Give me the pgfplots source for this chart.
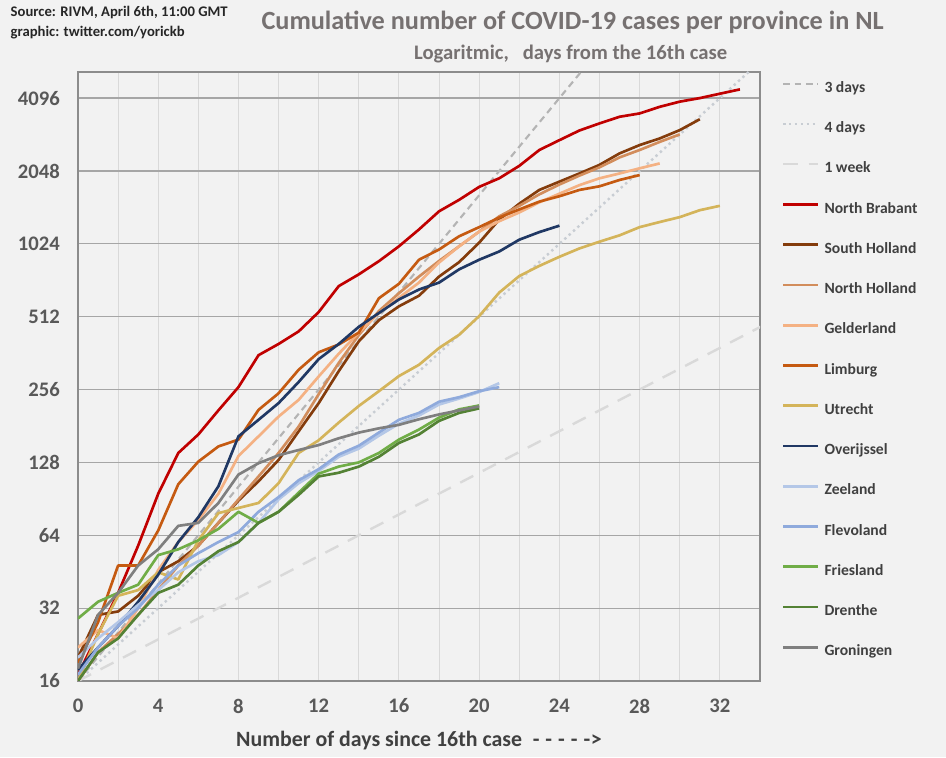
\documentclass[border=0pt]{standalone}
\usepackage{pgfplots}
\pgfplotsset{compat=1.18}
\usepackage{fontspec}
\setmainfont{Carlito}
\definecolor{bg}{HTML}{F2F2F2}
\definecolor{gridY}{HTML}{A6A6A6}
\definecolor{gridX}{HTML}{D9D9D9}
\definecolor{axisC}{HTML}{8C8C8C}
\definecolor{tickC}{HTML}{595959}
\definecolor{titleC}{HTML}{767171}
\definecolor{labC}{HTML}{404040}
\definecolor{ref3}{HTML}{B4B4B4}
\definecolor{ref4}{HTML}{C8CDD3}
\definecolor{ref7}{HTML}{D9D9D9}
\definecolor{cNB}{HTML}{C00000}
\definecolor{cSH}{HTML}{843C0C}
\definecolor{cNH}{HTML}{D28D5C}
\definecolor{cGE}{HTML}{F4B183}
\definecolor{cLI}{HTML}{C55A11}
\definecolor{cUT}{HTML}{D4B45A}
\definecolor{cOV}{HTML}{203864}
\definecolor{cZE}{HTML}{B4C7E7}
\definecolor{cFL}{HTML}{8FAADC}
\definecolor{cFR}{HTML}{70AD47}
\definecolor{cDR}{HTML}{548235}
\definecolor{cGR}{HTML}{7F7F7F}
\begin{document}
\begin{tikzpicture}[x=1pt,y=1pt]
\fill[bg] (-58.5,-57) rectangle (651,510.75);
\begin{axis}[
  scale only axis, width=511.5pt, height=456.75pt,
  xmin=0, xmax=34, ymode=log, log basis y=2, ymin=16, ymax=5250,
  axis background/.style={fill=bg},
  xtick={0,4,...,32}, xticklabels={0,4,8,12,16,20,24,28,32},
  minor xtick={0,2,...,34},
  ytick={16,32,64,128,256,512,1024,2048,4096},
  yticklabels={16,32,64,128,256,512,1024,2048,4096},
  ymajorgrids, xminorgrids,
  major grid style={draw=gridY, line width=0.9pt},
  minor grid style={draw=gridX, line width=0.75pt},
  major tick length=0pt, minor tick length=0pt,
  axis line style={draw=axisC, line width=1pt},
  tick label style={font=\fontsize{15.5}{16}\selectfont\bfseries, text=tickC},
  yticklabel style={anchor=east, inner sep=0pt, xshift=-13.5pt},
  xticklabel style={anchor=center, inner sep=0pt, yshift=-18.75pt},
  xlabel={Number of days since 16th case\hspace{8pt}-\hspace{4.5pt}-\hspace{4.5pt}-\hspace{4.5pt}-\hspace{4.5pt}-\hspace{0.5pt}>},
  xlabel style={at={(axis description cs:0.5,0)}, anchor=center, yshift=-45pt, font=\fontsize{16.4}{17}\selectfont\bfseries, text=labC},
  legend cell align=left,
  legend image code/.code={\draw[#1] (0pt,3.5pt) -- (26pt,3.5pt);},
  legend style={draw=none, fill=none, at={(axis description cs:1.0317,0.9858)}, anchor=north west,
    inner sep=0pt, row sep=19.2pt, font=\fontsize{11.7}{12}\selectfont\bfseries, text=labC,
    nodes={inner sep=0pt, text height=8.5pt, text depth=2.5pt},
    /tikz/every odd column/.append style={column sep=4pt}},
  every axis plot/.append style={line width=2pt, line join=round},
]
\addplot[ref3, line width=1.6pt, dash pattern=on 5pt off 3.5pt] coordinates {(0,16) (27,8192)};
\addlegendentry{3 days}
\addplot[ref4, line width=1.8pt, dash pattern=on 1.8pt off 2.6pt] coordinates {(0,16) (36,8192)};
\addlegendentry{4 days}
\addplot[ref7, line width=1.8pt, dash pattern=on 11pt off 8pt] coordinates {(0,16) (35,512)};
\addlegendentry{1 week}
% North Brabant
\addplot[cNB] coordinates {(0,17) (1,25) (2,37) (3,58) (4,95) (5,140) (6,167) (7,210) (8,262) (9,355) (10,395) (11,445) (12,535) (13,685) (14,766) (15,868) (16,1000) (17,1174) (18,1395) (19,1556) (20,1760) (21,1910) (22,2150) (23,2500) (24,2745) (25,3010) (26,3220) (27,3430) (28,3540) (29,3770) (30,3960) (31,4096) (32,4270) (33,4450)};
\addlegendentry{North Brabant}
% South Holland
\addplot[cSH] coordinates {(0,20) (1,30) (2,31) (3,36) (4,45) (5,50) (6,58) (7,72) (8,89) (9,107) (10,131) (11,172) (12,225) (13,305) (14,405) (15,495) (16,565) (17,625) (18,750) (19,860) (20,1035) (21,1290) (22,1500) (23,1710) (24,1850) (25,2000) (26,2170) (27,2420) (28,2620) (29,2790) (30,3020) (31,3350)};
\addlegendentry{South Holland}
% North Holland
\addplot[cNH] coordinates {(0,16) (1,21) (2,25) (3,30) (4,38) (5,48) (6,58) (7,72) (8,90) (9,112) (10,140) (11,180) (12,245) (13,330) (14,430) (15,540) (16,640) (17,750) (18,870) (19,1000) (20,1150) (21,1330) (22,1470) (23,1640) (24,1800) (25,1960) (26,2120) (27,2330) (28,2500) (29,2700) (30,2900)};
\addlegendentry{North Holland}
% Gelderland
\addplot[cGE] coordinates {(0,22) (1,26) (2,24) (3,32) (4,46) (5,60) (6,74) (7,95) (8,136) (9,164) (10,198) (11,232) (12,290) (13,360) (14,440) (15,530) (16,613) (17,708) (18,857) (19,1000) (20,1150) (21,1270) (22,1380) (23,1520) (24,1650) (25,1790) (26,1910) (27,2000) (28,2100) (29,2200)};
\addlegendentry{Gelderland}
% Limburg
\addplot[cLI] coordinates {(0,19) (1,28) (2,48) (3,48) (4,67) (5,104) (6,129) (7,149) (8,159) (9,211) (10,247) (11,309) (12,365) (13,393) (14,440) (15,610) (16,700) (17,880) (18,970) (19,1100) (20,1200) (21,1315) (22,1420) (23,1530) (24,1610) (25,1710) (26,1770) (27,1880) (28,1970)};
\addlegendentry{Limburg}
% Utrecht
\addplot[cUT] coordinates {(0,16) (1,25) (2,36) (3,38) (4,45) (5,42) (6,61) (7,79) (8,83) (9,87) (10,105) (11,140) (12,158) (13,187) (14,219) (15,252) (16,291) (17,324) (18,380) (19,431) (20,515) (21,644) (22,754) (23,830) (24,905) (25,980) (26,1045) (27,1110) (28,1200) (29,1260) (30,1320) (31,1410) (32,1470)};
\addlegendentry{Utrecht}
% Overijssel
\addplot[cOV] coordinates {(0,17.8) (1,22) (2,27) (3,34) (4,44) (5,60) (6,76) (7,102) (8,164) (9,192) (10,225) (11,275) (12,342) (13,395) (14,465) (15,530) (16,603) (17,663) (18,708) (19,803) (20,880) (21,952) (22,1065) (23,1145) (24,1217)};
\addlegendentry{Overijssel}
% Zeeland
\addplot[cZE] coordinates {(0,20) (1,24) (2,28) (3,33) (4,38) (5,45) (6,50) (7,53) (8,60) (9,72) (10,90) (11,105) (12,118) (13,135) (14,146) (15,165) (16,185) (17,200) (18,222) (19,235) (20,250) (21,272)};
\addlegendentry{Zeeland}
% Flevoland
\addplot[cFL] coordinates {(0,17) (1,22) (2,27) (3,32) (4,40) (5,48) (6,54) (7,60) (8,66) (9,80) (10,92) (11,108) (12,120) (13,138) (14,150) (15,170) (16,192) (17,205) (18,228) (19,238) (20,252) (21,262)};
\addlegendentry{Flevoland}
% Friesland
\addplot[cFR] coordinates {(0,29) (1,34) (2,37) (3,40) (4,53) (5,56) (6,61) (7,68) (8,80) (9,72) (10,80) (11,96) (12,115) (13,123) (14,128) (15,140) (16,159) (17,175) (18,196) (19,212) (20,220)};
\addlegendentry{Friesland}
% Drenthe
\addplot[cDR] coordinates {(0,16) (1,21) (2,24) (3,30) (4,37) (5,40) (6,48) (7,55) (8,60) (9,72) (10,80) (11,94) (12,112) (13,116) (14,123) (15,135) (16,154) (17,167) (18,190) (19,205) (20,214)};
\addlegendentry{Drenthe}
% Groningen
\addplot[cGR] coordinates {(0,18) (1,30) (2,37) (3,48) (4,56) (5,70) (6,72) (7,87) (8,114) (9,127) (10,137) (11,144) (12,151) (13,161) (14,170) (15,177) (16,183) (17,193) (18,202) (19,210) (20,218)};
\addlegendentry{Groningen}
\end{axis}
\node[anchor=west, font=\fontsize{11}{12}\selectfont\bfseries, text=black!85] at (-54,501) {Source: RIVM, April 6th, 11:00 GMT};
\node[anchor=west, font=\fontsize{11}{12}\selectfont\bfseries, text=black!85] at (-54,486) {graphic: twitter.com/yorickb};
\node[font=\fontsize{19.7}{20}\selectfont\bfseries, text=titleC] at (371,494) {Cumulative number of COVID-19 cases per province in NL};
\node[font=\fontsize{15.5}{16}\selectfont\bfseries, text=titleC] at (369.5,470.5) {Logaritmic,\ \ \ days from the 16th case};
\pgfresetboundingbox
\path (-58.5,-57) rectangle (651,510.75);
\end{tikzpicture}
\end{document}
